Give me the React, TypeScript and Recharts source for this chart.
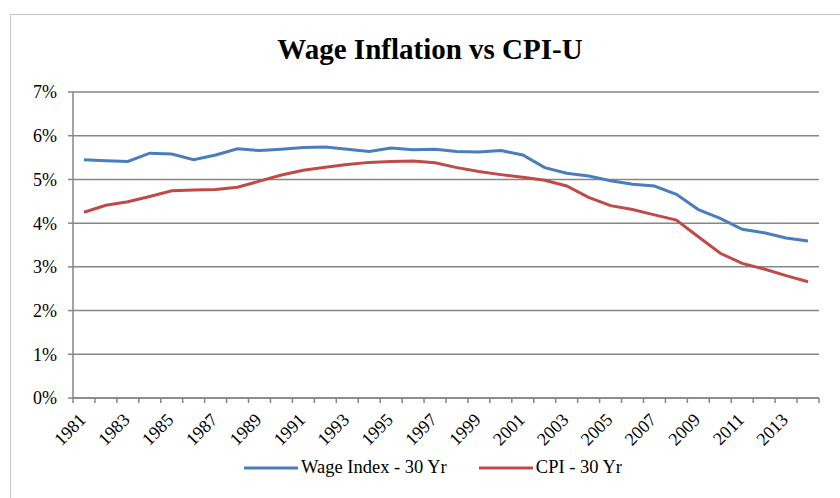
import React from 'react';
import { LineChart, Line, XAxis, YAxis, CartesianGrid } from 'recharts';

const years = [
  1981, 1982, 1983, 1984, 1985, 1986, 1987, 1988, 1989, 1990, 1991, 1992,
  1993, 1994, 1995, 1996, 1997, 1998, 1999, 2000, 2001, 2002, 2003, 2004,
  2005, 2006, 2007, 2008, 2009, 2010, 2011, 2012, 2013, 2014,
];

const wageIndex = [
  5.45, 5.43, 5.41, 5.6, 5.58, 5.45, 5.56, 5.7, 5.66, 5.69, 5.73, 5.74,
  5.69, 5.64, 5.72, 5.68, 5.69, 5.64, 5.63, 5.66, 5.56, 5.27, 5.14, 5.08,
  4.97, 4.89, 4.85, 4.66, 4.31, 4.11, 3.86, 3.78, 3.66, 3.59,
];

const cpi = [
  4.25, 4.41, 4.49, 4.61, 4.74, 4.76, 4.77, 4.82, 4.96, 5.1, 5.21, 5.28,
  5.34, 5.39, 5.41, 5.42, 5.38, 5.27, 5.18, 5.11, 5.05, 4.98, 4.85, 4.59,
  4.4, 4.31, 4.19, 4.07, 3.69, 3.31, 3.08, 2.95, 2.8, 2.66,
];

const yTicks = [0, 1, 2, 3, 4, 5, 6, 7];

const series = [
  { key: 'wage', name: 'Wage Index - 30 Yr', color: '#4a7ebb' },
  { key: 'cpi', name: 'CPI - 30 Yr', color: '#be4b48' },
];

const data = years.map((year, i) => ({ year, wage: wageIndex[i], cpi: cpi[i] }));

const FONT = 'Liberation Serif, Times New Roman, serif';
const AXIS = '#868686';
const W = 840;
const H = 498;
const MARGIN = { top: 92, right: 21, left: 0, bottom: 0 };
const Y_W = 73;
const plotW = W - MARGIN.left - MARGIN.right - Y_W;
const half = plotW / years.length / 2;

const YearTick = (props: any) => {
  const { x, y, index } = props;
  const last = index === years.length - 1;
  const tx = x + 3;
  const ty = y + 23;
  return (
    <g>
      <line x1={x - half} x2={x - half} y1={y} y2={y + 5} stroke={AXIS} strokeWidth={1.5} />
      {last && <line x1={x + half} x2={x + half} y1={y} y2={y + 5} stroke={AXIS} strokeWidth={1.5} />}
      {index % 2 === 0 && (
        <text
          x={tx}
          y={ty}
          transform={`rotate(-45, ${tx}, ${ty})`}
          textAnchor="end"
          fontFamily={FONT}
          fontSize={18}
          fill="#000"
        >
          {props.payload.value}
        </text>
      )}
    </g>
  );
};

export default function App() {
  return (
    <div
      style={{
        position: 'absolute',
        left: 0,
        top: 0,
        width: W,
        height: H,
        overflow: 'hidden',
        background: '#fff',
        fontFamily: FONT,
      }}
    >
      <div
        style={{
          position: 'absolute',
          left: 10,
          top: 14,
          width: 900,
          height: 600,
          border: '1.5px solid #c4c4c4',
        }}
      />
      <div
        style={{
          position: 'absolute',
          left: 0,
          top: 33,
          width: 860,
          textAlign: 'center',
          fontWeight: 'bold',
          fontSize: 29,
          color: '#000',
        }}
      >
        Wage Inflation vs CPI-U
      </div>
      <div style={{ position: 'absolute', left: 0, top: 0 }}>
        <LineChart width={W} height={H} data={data} margin={MARGIN} style={{ fontFamily: FONT }}>
          <CartesianGrid vertical={false} stroke={AXIS} strokeWidth={1.5} />
          <XAxis
            dataKey="year"
            type="category"
            interval={0}
            height={H - 398 - MARGIN.bottom}
            padding={{ left: half, right: half }}
            tickLine={false}
            tickSize={0}
            tickMargin={0}
            axisLine={{ stroke: AXIS, strokeWidth: 1.5 }}
            tick={<YearTick />}
          />
          <YAxis
            width={Y_W}
            domain={[0, 7]}
            ticks={yTicks}
            interval={0}
            tickFormatter={(v: number) => `${v}%`}
            tickSize={5}
            tickMargin={11}
            tickLine={{ stroke: AXIS, strokeWidth: 1.5 }}
            axisLine={{ stroke: AXIS, strokeWidth: 1.5 }}
            tick={{ fill: '#000', fontSize: 18, fontFamily: FONT }}
          />
          {series.map((s) => (
            <Line
              key={s.key}
              type="linear"
              dataKey={s.key}
              name={s.name}
              stroke={s.color}
              strokeWidth={3}
              dot={false}
              activeDot={false}
              isAnimationActive={false}
            />
          ))}
        </LineChart>
      </div>
      <div
        style={{
          position: 'absolute',
          left: 0,
          top: 457,
          width: 866,
          display: 'flex',
          justifyContent: 'center',
          alignItems: 'center',
          fontSize: 18.5,
          color: '#000',
        }}
      >
        {series.map((s, i) => (
          <div key={s.key} style={{ display: 'flex', alignItems: 'center', marginLeft: i === 0 ? 0 : 32 }}>
            <svg width={54} height={6} style={{ display: 'block' }}>
              <line x1={0} x2={54} y1={3} y2={3} stroke={s.color} strokeWidth={3} />
            </svg>
            <span style={{ marginLeft: 3 }}>{s.name}</span>
          </div>
        ))}
      </div>
    </div>
  );
}
